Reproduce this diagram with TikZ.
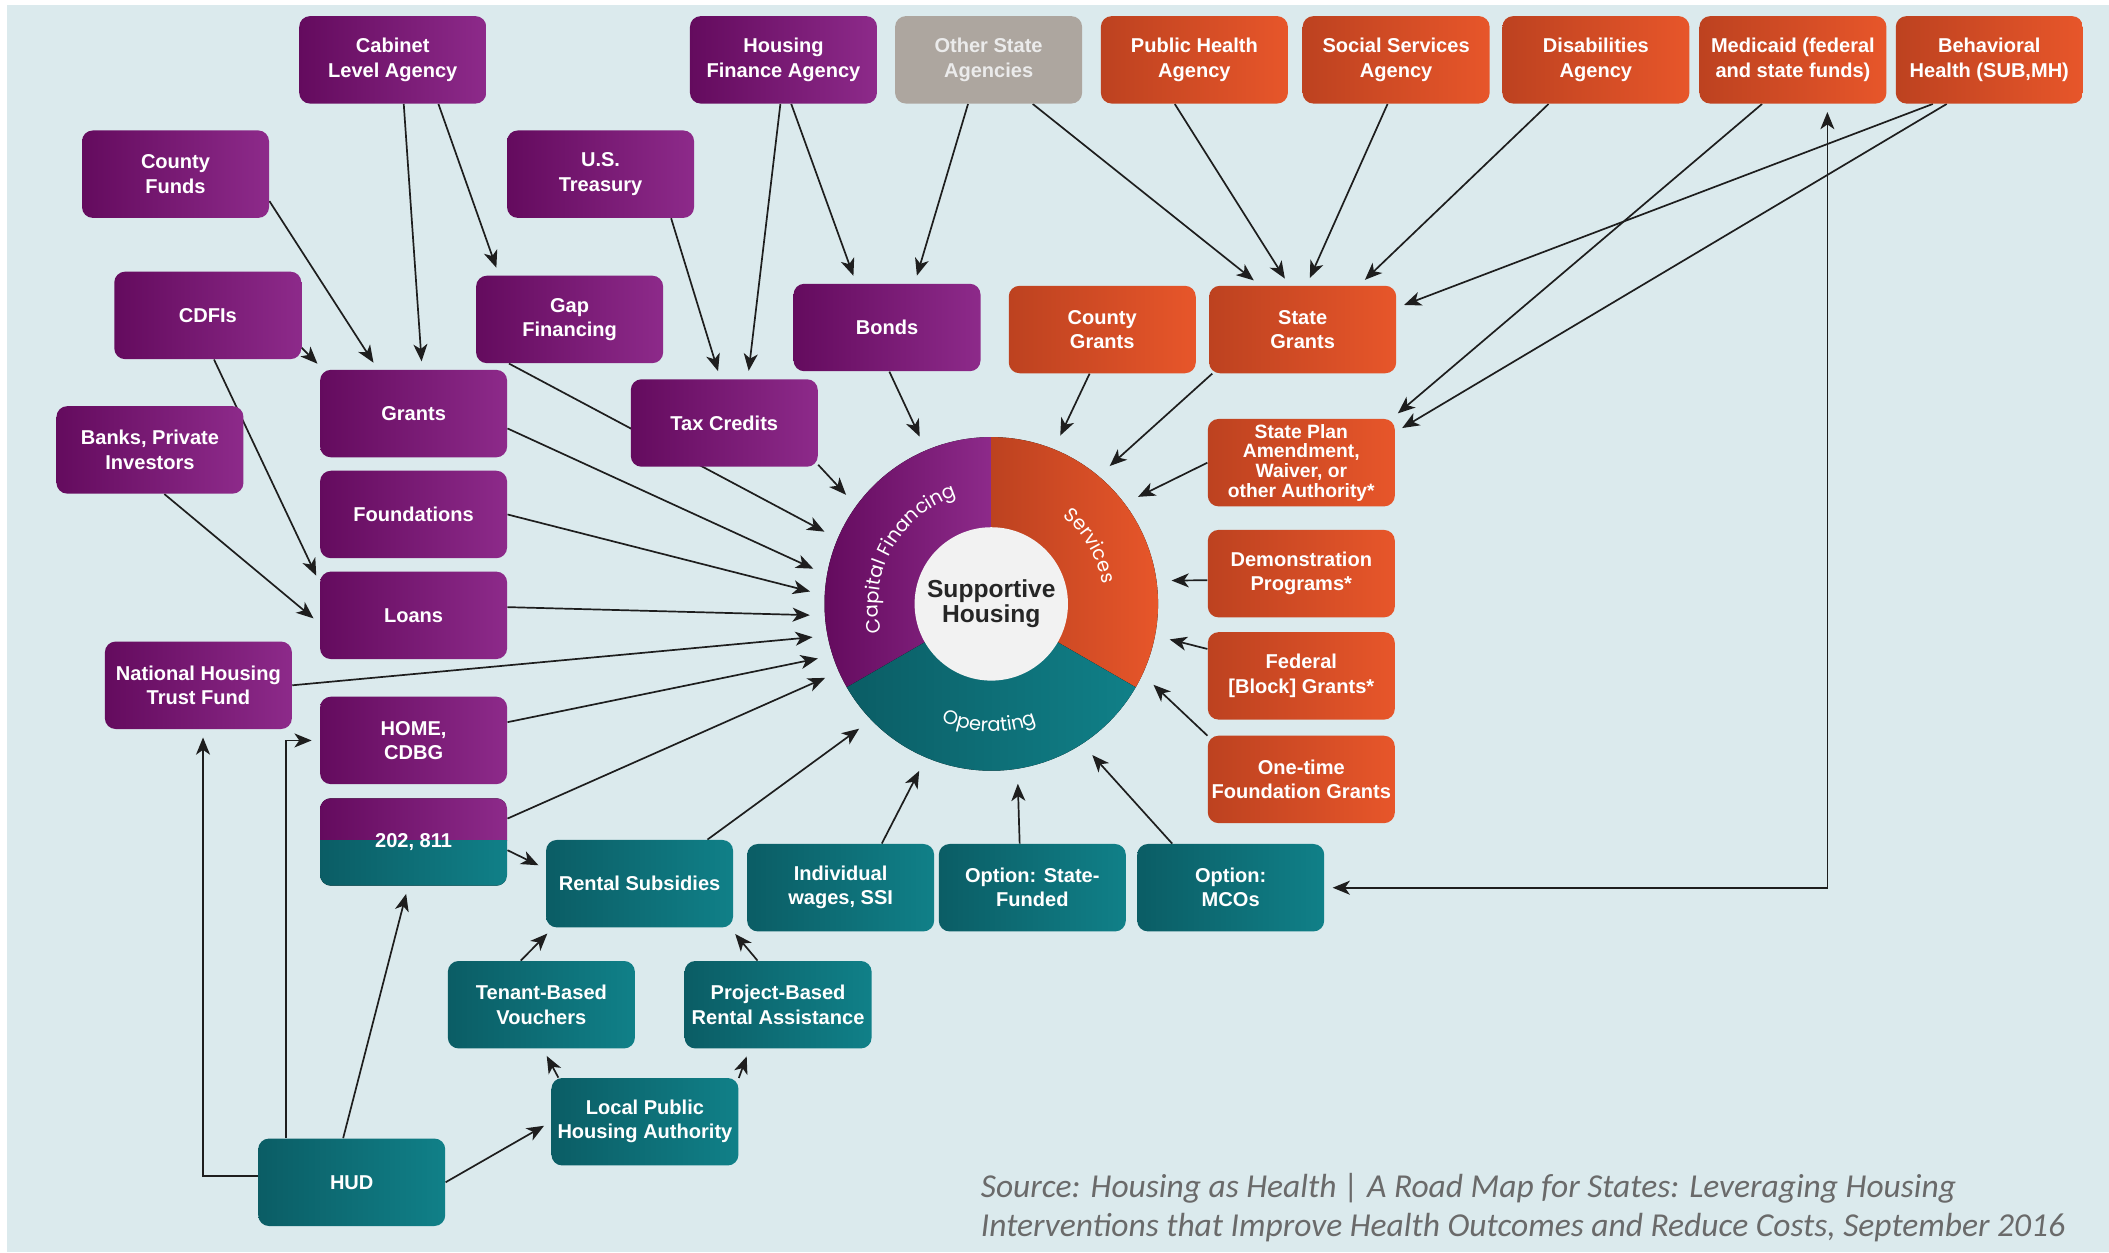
\documentclass[tikz,border=0pt]{standalone}
\usepackage{fontspec}
\setmainfont{Liberation Sans}
\newfontfamily\ringfont{Poppins}
\newfontfamily\notefont{Carlito}
\usepackage{xcolor}
\usepackage{tikz}
\usetikzlibrary{arrows.meta, calc, decorations.text}

\definecolor{paper}{HTML}{DBEAED}
\definecolor{capdark}{HTML}{640B5E}
\definecolor{caplight}{HTML}{8D2A8A}
\definecolor{svcdark}{HTML}{BD4220}
\definecolor{svclight}{HTML}{E7562A}
\definecolor{opdark}{HTML}{0B5D65}
\definecolor{oplight}{HTML}{108088}
\definecolor{agencygrey}{HTML}{ADA69F}
\definecolor{hubfill}{HTML}{F2F2F2}
\definecolor{hubtext}{HTML}{262626}
\definecolor{linkc}{HTML}{1E1E1E}
\definecolor{notec}{HTML}{6A6A6A}

\pgfdeclarelayer{paperlayer}
\pgfdeclarelayer{links}
\pgfsetlayers{paperlayer,links,main}

\begin{document}
\begin{tikzpicture}[
    x=0.025cm, y=0.025cm,
    box/.style={rounded corners=0.2cm, minimum width=3.475cm, minimum height=1.625cm, inner sep=1pt,
        align=center, text=white, font=\bfseries\fontsize{10.6}{12.8}\selectfont},
    capbox/.style={box, left color=capdark, right color=caplight},
    svcbox/.style={box, left color=svcdark, right color=svclight},
    opbox/.style={box, left color=opdark, right color=oplight},
    greybox/.style={box, fill=agencygrey, text=white!92!black},
    headtip/.tip={Stealth[length=3.2mm, width=2.6mm, inset=0.9mm]},
    link/.style={draw=linkc, line width=0.9pt, -{headtip}, shorten >=0.15cm},
    tohub/.style={link, shorten >=0.28cm},
    ringtext/.style={decorate, decoration={text along path, text align=center, text color=white}}
]
    \useasboundingbox (0,0) rectangle (1568,-931);
    \begin{pgfonlayer}{paperlayer}
        \fill[white] (0,0) rectangle (1568,-931);
        \fill[paper] (5,-4) rectangle (1568,-931);
    \end{pgfonlayer}

    % top row of agencies
    \node[capbox] (cabinet) at (292,-44.5) {Cabinet\\Level Agency};
    \node[capbox] (hfa) at (582.5,-44.5) {Housing\\Finance Agency};
    \node[greybox] (otherstate) at (735,-44.5) {Other State\\Agencies};
    \node[svcbox] (publichealth) at (888,-44.5) {Public Health\\Agency};
    \node[svcbox] (socialsvc) at (1038,-44.5) {Social Services\\Agency};
    \node[svcbox] (disability) at (1186.5,-44.5) {Disabilities\\Agency};
    \node[svcbox] (medicaid) at (1333,-44.5) {Medicaid (federal\\and state funds)};
    \node[svcbox] (behavioral) at (1479,-44.5) {Behavioral\\Health (SUB,MH)};

    % capital financing sources
    \node[capbox] (countyfunds) at (130.5,-129.5) {County\\Funds};
    \node[capbox] (treasury) at (446.5,-129.5) {U.S.\\Treasury};
    \node[capbox] (cdfi) at (154.5,-234.5) {CDFIs};
    \node[capbox] (gapfin) at (423.5,-237.5) {Gap\\Financing};
    \node[capbox] (bonds) at (659.5,-243.5) {Bonds};
    \node[capbox] (grants) at (307.5,-307.5) {Grants};
    \node[capbox] (taxcredits) at (538.5,-314.5) {Tax Credits};
    \node[capbox] (banks) at (111.5,-334.5) {Banks, Private\\Investors};
    \node[capbox] (foundations) at (307.5,-382.5) {Foundations};
    \node[capbox] (loans) at (307.5,-457.5) {Loans};
    \node[capbox] (nhtf) at (147.5,-509.5) {National Housing\\Trust Fund};
    \node[capbox] (homecdbg) at (307.5,-550.5) {HOME,\\CDBG};
    \node[box, path picture={
        \fill[sharp corners, left color=capdark, right color=caplight] (path picture bounding box.north west) rectangle ([yshift=1pt]path picture bounding box.east);
        \fill[sharp corners, left color=opdark, right color=oplight] ([yshift=1pt]path picture bounding box.west) rectangle (path picture bounding box.south east);
    }] (sec202) at (307.5,-626) {202, 811};

    % services sources
    \node[svcbox] (countygrants) at (819.5,-245) {County\\Grants};
    \node[svcbox] (stategrants) at (968.5,-245) {State\\Grants};
    \node[svcbox, font=\bfseries\fontsize{10.2}{10.4}\selectfont] (stateplan) at (967.5,-344) {State Plan\\Amendment,\\Waiver, or\\other Authority*};
    \node[svcbox] (demo) at (967.5,-426.5) {Demonstration\\Programs*};
    \node[svcbox] (federal) at (967.5,-502.5) {Federal\\{}[Block] Grants*};
    \node[svcbox] (onetime) at (967.5,-579.5) {One-time\\Foundation Grants};

    % operating sources
    \node[opbox] (rental) at (475.5,-657) {Rental Subsidies};
    \node[opbox] (wages) at (625,-660) {Individual\\wages, SSI};
    \node[opbox] (statefunded) at (767.5,-660) {Option: State-\\Funded};
    \node[opbox] (mcos) at (915,-660) {Option:\\MCOs};
    \node[opbox] (tenant) at (402.5,-747) {Tenant-Based\\Vouchers};
    \node[opbox] (project) at (578.5,-747) {Project-Based\\Rental Assistance};
    \node[opbox] (lpha) at (479.5,-834) {Local Public\\Housing Authority};
    \node[opbox] (hud) at (261.5,-879) {HUD};

    % the wheel
    \node[circle, minimum size=6.2cm, inner sep=0, outer sep=0] (ring) at (737,-449) {};
    \fill[left color=capdark, right color=caplight] (ring.center) -- (ring.90) arc[start angle=90, end angle=210, radius=124] -- cycle;
    \fill[left color=svcdark, right color=svclight] (ring.center) -- (ring.90) arc[start angle=90, end angle=-30, radius=124] -- cycle;
    \fill[left color=opdark, right color=oplight] (ring.center) -- (ring.210) arc[start angle=210, end angle=330, radius=124] -- cycle;
    \path[ringtext, decoration={text={|\ringfont\fontsize{10.3}{12}\selectfont|Capital Financing}}]
        ($(ring.center)+(198:84)$) arc[start angle=198, end angle=104, radius=84];
    \path[ringtext, decoration={text={|\ringfont\fontsize{10.3}{12}\selectfont|Services}}]
        ($(ring.center)+(58:84)$) arc[start angle=58, end angle=3, radius=84];
    \path[ringtext, decoration={text={|\ringfont\fontsize{10.3}{12}\selectfont|Operating}}]
        ($(ring.center)+(238:95)$) arc[start angle=238, end angle=300, radius=95];
    \node[circle, fill=hubfill, minimum size=2.85cm, inner sep=0, align=center, text=hubtext,
        font=\bfseries\fontsize{13}{13.5}\selectfont] (hub) at (ring.center) {Supportive\\Housing};

    \node[anchor=north west, align=left, inner sep=0, text=notec,
        font=\notefont\itshape\fontsize{17.7}{20.6}\selectfont] (source) at (729,-872)
        {Source: Housing as Health | A Road Map for States: Leveraging Housing\\Interventions that Improve Health Outcomes and Reduce Costs, September 2016};

    \begin{pgfonlayer}{links}
        \draw[link] (cabinet.-76) -- (grants.79);
        \draw[link] (cabinet.-44) -- (gapfin.148);
        \draw[link] (countyfunds.-16) -- (grants.129);
        \draw[link] (cdfi.-19) -- (grants.154);
        \draw[link] (cdfi.-82) -- (loans.161);
        \draw[link] (banks.-72) -- (loans.185);
        \draw[link] (treasury.-32) -- (taxcredits.95);
        \draw[link] (hfa.-94) -- (taxcredits.62);
        \draw[link] (hfa.-80) -- (bonds.125);
        \draw[link] (otherstate.-115) -- (bonds.58);
        \draw[link] (otherstate.-45) -- (stategrants.134);
        \draw[link] (publichealth.-114) -- (stategrants.107);
        \draw[link] (socialsvc.-101) -- (stategrants.85);
        \draw[link] (disability.-137) -- (stategrants.38);
        \draw[link] (behavioral.-142) -- (stategrants.13);
        \draw[link] (medicaid.-125) -- (stateplan.26);
        \draw[link] (behavioral.-134) -- (stateplan.18);

        \draw[tohub] (bonds.-87) -- (ring.113);
        \draw[tohub] (taxcredits.-24) -- (ring.144);
        \draw[tohub] (gapfin.-144) -- (ring.157);
        \draw[tohub] (grants.-9) -- (ring.170);
        \draw[tohub] (foundations.0) -- (ring.177);
        \draw[tohub] (loans.5) -- (ring.184);
        \draw[tohub] (nhtf.0) -- (ring.191);
        \draw[tohub] (homecdbg.11) -- (ring.198);
        \draw[tohub] (sec202.14) -- (ring.204);
        \draw[tohub] (rental.33) -- (ring.224);
        \draw[tohub] (wages.47) -- (ring.247);
        \draw[tohub] (statefunded.106) -- (ring.279);
        \draw[tohub] (mcos.143) -- (ring.303);
        \draw[tohub] (onetime.155) -- (ring.335);
        \draw[tohub] (federal.164) -- (ring.349);
        \draw[tohub] (demo.184) -- (ring.8);
        \draw[tohub] (stateplan.180) -- (ring.37);
        \draw[tohub] (stategrants.-154) -- (ring.50);
        \draw[tohub] (countygrants.-106) -- (ring.68);

        \draw[link] (sec202.-5) -- (rental.171);
        \draw[link] (tenant.115) -- (rental.-153);
        \draw[link] (project.115) -- (rental.-26);
        \draw[link] (lpha.153) -- (tenant.-88);
        \draw[link] (lpha.25) -- (project.-123);
        \draw[link] (hud.0) -- (lpha.180);
        \draw[link] (hud.101) -- (sec202.-97);
        \draw[link] (hud.146) |- (homecdbg.west);
        \draw[link] (hud.176) -| (nhtf.-84);
        \draw[link, {headtip}-{headtip}, shorten <=0.15cm] (mcos.east) -| (medicaid.-52);
    \end{pgfonlayer}
\end{tikzpicture}
\end{document}
